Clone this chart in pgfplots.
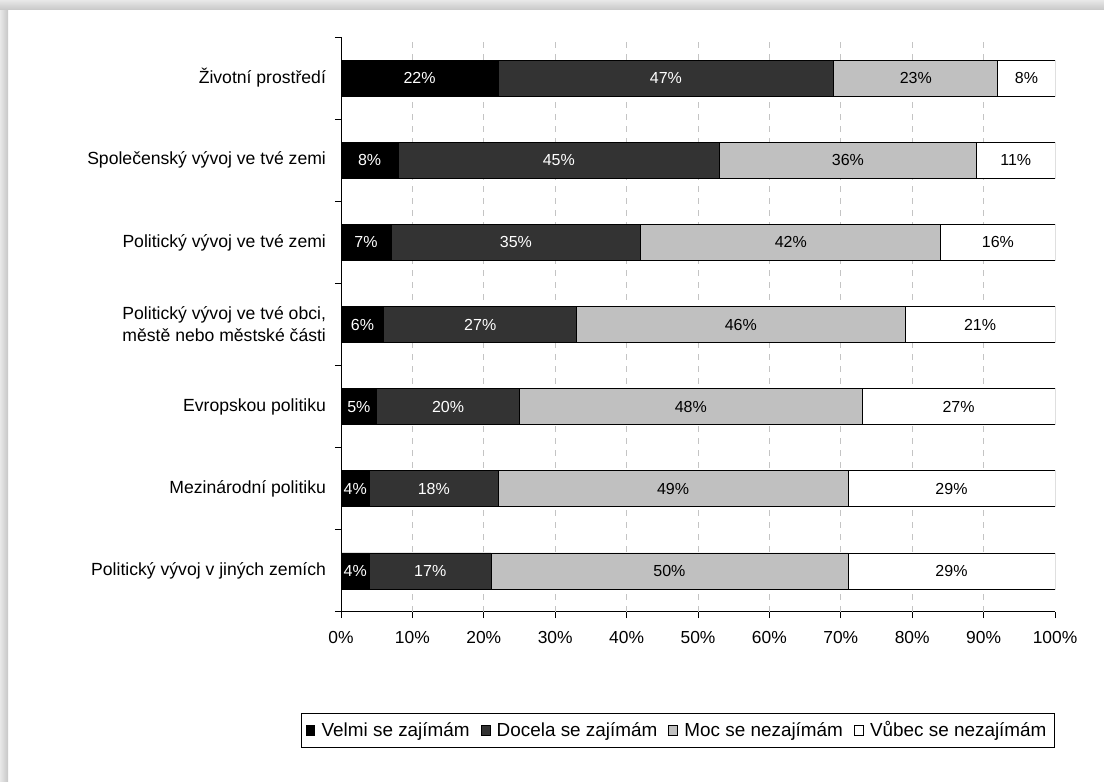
\documentclass[border=0pt]{standalone}
\usepackage{pgfplots}
\usepackage{pgfplotstable}
\pgfplotsset{compat=1.18}
\usepackage{fontspec}
\setmainfont{Liberation Sans}
\definecolor{cDoc}{HTML}{333333}
\definecolor{cMoc}{HTML}{C0C0C0}
\definecolor{gridc}{HTML}{C4C4C4}
\pgfplotstableread{
y a b c d
6 22 47 23 8
5 8 45 36 11
4 7 35 42 16
3 6 27 46 21
2 5 20 48 27
1 4 18 49 29
0 4 17 50 29
}\data
\pgfplotsset{
  common/.style={
    at={(170.5pt,85pt)}, anchor=south west,
    scale only axis, width=357pt, height=287.5pt,
    xmin=0, xmax=100, ymin=-0.5, ymax=6.5,
  },
  lbl/.style={only marks, mark=*, mark size=0pt, mark options={draw=none,fill=none},
    /pgf/number format/assume math mode=true,
    nodes near coords={\pgfmathprintnumber{\pgfplotspointmeta}\%},
    every node near coord/.append style={anchor=center, inner sep=0pt, font=\fontsize{8}{9.6}\selectfont, text=#1}},
  sq/.style={legend image code/.code={\draw[##1,draw=black,line width=0.4pt] (0pt,-2.6pt) rectangle (4.4pt,2.8pt);}},
}
\begin{document}
\begin{tikzpicture}
\path[use as bounding box] (0,0) rectangle (552pt,391pt);
\shade[left color=black!9,right color=black!22] (0,0) rectangle (4pt,391pt);
\shade[top color=black!9,bottom color=black!22] (0,386pt) rectangle (552pt,391pt);
\begin{axis}[common,
  xbar stacked, bar width=18pt,
  axis x line=bottom, axis y line=left, axis line style={-, line width=0.5pt, black},
  tick pos=left,
  tick align=outside, major tick length=3pt, tick style={black, line width=0.5pt},
  xtick={0,10,...,100},
  xticklabels={0\%,10\%,20\%,30\%,40\%,50\%,60\%,70\%,80\%,90\%,100\%},
  x tick label style={font=\fontsize{8.7}{10}\selectfont, yshift=-3pt},
  extra x ticks={10,20,...,90}, extra x tick labels={},
  extra x tick style={grid=major, major tick length=0pt},
  grid style={gridc, line width=0.5pt, dash pattern=on 3pt off 3pt},
  ytick={-0.5,0.5,...,6.5}, yticklabels={,,,,,,,,},
  extra y ticks={0,1,...,6},
  extra y tick labels={Politický vývoj v jiných zemích, Mezinárodní politiku, Evropskou politiku, {Politický vývoj ve tvé obci,\\městě nebo městské části}, Politický vývoj ve tvé zemi, Společenský vývoj ve tvé zemi, Životní prostředí},
  extra y tick style={major tick length=0pt},
  y tick label style={font=\fontsize{8.8}{11}\selectfont, align=center, xshift=-4pt},
  legend columns=4,
  legend cell align=left,
  legend style={at={(1,0)}, anchor=north east, yshift=-50.5pt, draw=black, line width=0.5pt,
    font=\fontsize{9.45}{11}\selectfont, inner xsep=2pt, inner ysep=2pt,
    /tikz/every odd column/.append style={column sep=1.2pt},
    /tikz/every even column/.append style={column sep=3.5pt}},
]
\addplot[fill=black, draw=black, line width=0.4pt, sq] table[x=a,y=y]{\data};
\addplot[fill=cDoc, draw=black, line width=0.4pt, sq] table[x=b,y=y]{\data};
\addplot[fill=cMoc, draw=black, line width=0.4pt, sq] table[x=c,y=y]{\data};
\addplot[fill=white, draw=black, line width=0.4pt, sq] table[x=d,y=y]{\data};
\legend{Velmi se zajímám, Docela se zajímám, Moc se nezajímám, Vůbec se nezajímám}
\end{axis}
\begin{axis}[common, hide axis]
\addplot[lbl=white, point meta=\thisrow{a}] table[x expr=\thisrow{a}/2, y=y]{\data};
\addplot[lbl=white, point meta=\thisrow{b}] table[x expr=\thisrow{a}+\thisrow{b}/2, y=y]{\data};
\addplot[lbl=black, point meta=\thisrow{c}] table[x expr=\thisrow{a}+\thisrow{b}+\thisrow{c}/2, y=y]{\data};
\addplot[lbl=black, point meta=\thisrow{d}] table[x expr=\thisrow{a}+\thisrow{b}+\thisrow{c}+\thisrow{d}/2, y=y]{\data};
\end{axis}
\end{tikzpicture}
\end{document}
